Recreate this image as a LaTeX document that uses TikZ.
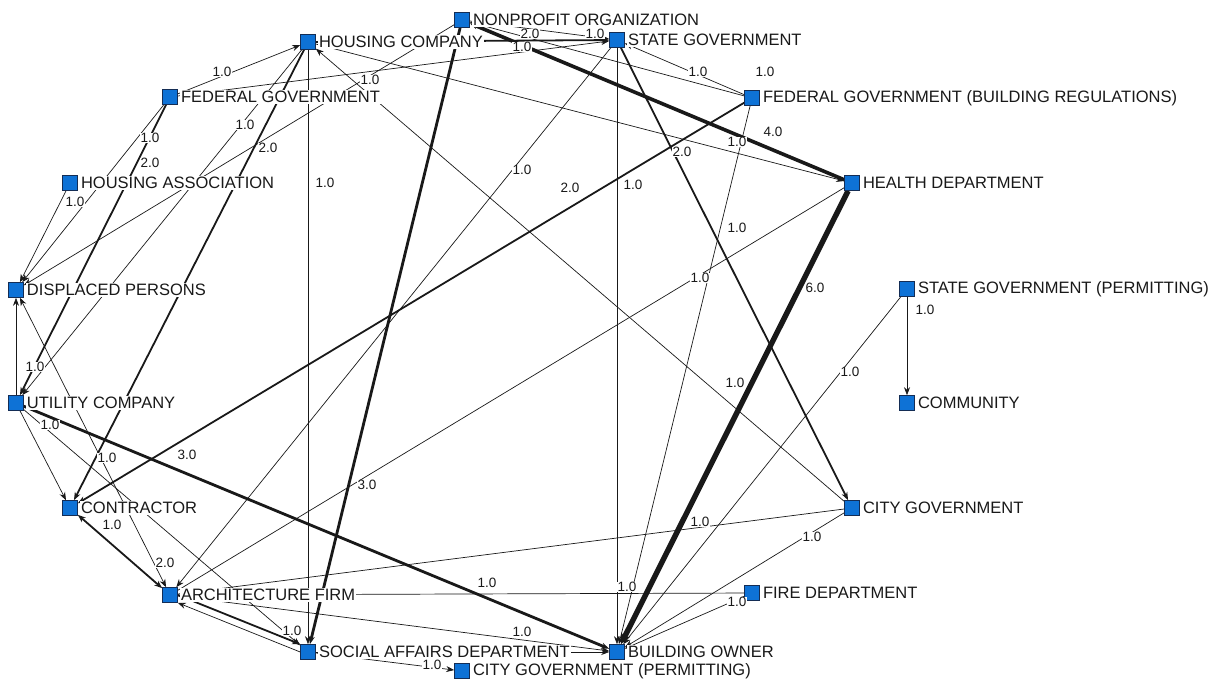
\documentclass[tikz,border=0pt]{standalone}
\usepackage{fontspec}
\setmainfont{Liberation Sans}
\usetikzlibrary{arrows.meta,backgrounds}
\definecolor{nodeblue}{RGB}{14,114,214}
\definecolor{nodeedge}{RGB}{20,45,85}
\definecolor{ink}{RGB}{25,25,25}
\begin{document}
\begin{tikzpicture}[x=1pt,y=-1pt,
  sq/.style={draw=nodeedge, fill=nodeblue, minimum size=15pt, inner sep=0pt, line width=0.6pt},
  nlab/.style={anchor=west, fill=white, inner sep=1pt, xshift=2pt, text=ink, font=\fontsize{16.5}{16.5}\selectfont},
  elab/.style={fill=white, inner sep=0.6pt, text=ink, font=\fontsize{13.5}{14}\selectfont},
  tip/.style={-{Stealth[length=8pt,width=6pt]}},
  w1/.style={line width=0.7pt, draw=ink},
  w2/.style={line width=1.8pt, draw=ink},
  w3/.style={line width=2.8pt, draw=ink},
  w4/.style={line width=3.6pt, draw=ink},
  w6/.style={line width=5.4pt, draw=ink},
  bigtip/.style={-{Stealth[length=11pt,width=10pt]}},
  bothtip/.style={{Stealth[length=8pt,width=6pt]}-{Stealth[length=8pt,width=6pt]}}
]
\useasboundingbox (0,0) rectangle (1225,680);

% nodes
\node[sq] (np) at (462,20) {};
\node[sq] (hc) at (308,42) {};
\node[sq] (sg) at (617,40) {};
\node[sq] (fg) at (170,97) {};
\node[sq] (fgbr) at (752,98) {};
\node[sq] (ha) at (70,183) {};
\node[sq] (hd) at (852,183) {};
\node[sq] (dp) at (16,290) {};
\node[sq] (sgp) at (907,289) {};
\node[sq] (uc) at (16,403) {};
\node[sq] (com) at (907,403) {};
\node[sq] (con) at (70,508) {};
\node[sq] (cg) at (852,508) {};
\node[sq] (af) at (170,595) {};
\node[sq] (fd) at (752,593) {};
\node[sq] (sad) at (308,652) {};
\node[sq] (bo) at (617,652) {};
\node[sq] (cgp) at (462,671) {};

% edges
\begin{scope}[on background layer]
\fill[white] (0,0) rectangle (1225,680);
\draw[w6,bigtip] (hd) -- (bo);
\draw[w4,tip] (hd) -- (np);
\draw[w3,tip] (np) -- (sad);
\draw[w3,tip] (uc) -- (bo);
\draw[w2,tip] (fgbr) -- (con);
\draw[w2,tip] (sg) -- (cg);
\draw[w2,tip] (hc) -- (sg);
\draw[w1,tip] (np) -- (sg);
\draw[w1,tip] (fgbr) -- (sg);
\draw[w1,tip] (fgbr) -- (np);
\draw[w1,tip] (fg) -- (sg);
\draw[w1,tip] (fg) -- (hc);
\draw[w1,tip] (hc) -- (hd);
\draw[w1,tip] (cg) -- (hc);
\draw[w1,tip] (hc) -- (sad);
\draw[w1,tip] (sg) -- (bo);
\draw[w1,tip] (sg) -- (af);
\draw[w1,tip] (fgbr) -- (bo);
\draw[w1] (hd) -- (af);
\draw[w1,tip] (sgp) -- (com);
\draw[w1,tip] (sgp) -- (bo);
\draw[w1] (cg) -- (af);
\draw[w1,tip] (cg) -- (bo);
\draw[w1,tip] (fd) -- (bo);
\draw[w1] (af) -- (fd);
\draw[w1,tip] (af) -- (bo);
\draw[w1,tip] (sad) -- (bo);
\draw[w1,tip] (sad) -- (cgp);
\draw[w2,tip] (af.east) -- (sad.north west);
\draw[w1,tip] (sad.west) -- (af.south east);
\draw[w2,bothtip] (con) -- (af);
\draw[w1,bothtip] (dp) -- (af);
\draw[w1,tip] (uc) -- (dp);
\draw[w1,tip] (uc) -- (con);
\draw[w1,tip] (uc) -- (sad);
\draw[w2,tip] (hc) -- (con);
\draw[w1,tip] (hc) -- (uc);
\draw[w2,tip] (fg) -- (uc);
\draw[w1,tip] (fg) -- (dp);
\draw[w1,tip] (ha) -- (dp);
\draw[w1,tip] (np) -- (dp);
\end{scope}

% edge labels
\node[elab] (l1) at (530,34) {2.0};
\node[elab] (l2) at (595,34) {1.0};
\node[elab] (l3) at (522,47) {1.0};
\node[elab] (l4) at (222,72) {1.0};
\node[elab] (l5) at (370,80) {1.0};
\node[elab] (l6) at (698,72) {1.0};
\node[elab] (l7) at (765,72) {1.0};
\node[elab] (l8) at (150,138) {1.0};
\node[elab] (l9) at (150,163) {2.0};
\node[elab] (l10) at (245,125) {1.0};
\node[elab] (l11) at (268,148) {2.0};
\node[elab] (l12) at (75,202) {1.0};
\node[elab] (l13) at (325,183) {1.0};
\node[elab] (l14) at (522,170) {1.0};
\node[elab] (l15) at (633,185) {1.0};
\node[elab] (l16) at (682,152) {2.0};
\node[elab] (l17) at (773,132) {4.0};
\node[elab] (l18) at (737,142) {1.0};
\node[elab] (l19) at (570,188) {2.0};
\node[elab] (l20) at (737,228) {1.0};
\node[elab] (l21) at (700,278) {1.0};
\node[elab] (l22) at (815,288) {6.0};
\node[elab] (l23) at (925,310) {1.0};
\node[elab] (l24) at (850,372) {1.0};
\node[elab] (l25) at (735,383) {1.0};
\node[elab] (l26) at (35,367) {1.0};
\node[elab] (l27) at (50,425) {1.0};
\node[elab] (l28) at (107,458) {1.0};
\node[elab] (l29) at (187,455) {3.0};
\node[elab] (l30) at (367,485) {3.0};
\node[elab] (l31) at (112,525) {1.0};
\node[elab] (l32) at (165,563) {2.0};
\node[elab] (l33) at (700,522) {1.0};
\node[elab] (l34) at (812,537) {1.0};
\node[elab] (l35) at (487,583) {1.0};
\node[elab] (l36) at (627,587) {1.0};
\node[elab] (l37) at (737,602) {1.0};
\node[elab] (l38) at (522,632) {1.0};
\node[elab] (l39) at (292,631) {1.0};
\node[elab] (l40) at (432,665) {1.0};

% node labels (on top)
\node[nlab] (npl) at (np.east) {NONPROFIT ORGANIZATION};
\node[nlab] (hcl) at (hc.east) {HOUSING COMPANY};
\node[nlab] (sgl) at (sg.east) {STATE GOVERNMENT};
\node[nlab] (fgl) at (fg.east) {FEDERAL GOVERNMENT};
\node[nlab] (fgbrl) at (fgbr.east) {FEDERAL GOVERNMENT (BUILDING REGULATIONS)};
\node[nlab] (hal) at (ha.east) {HOUSING ASSOCIATION};
\node[nlab] (hdl) at (hd.east) {HEALTH DEPARTMENT};
\node[nlab] (dpl) at (dp.east) {DISPLACED PERSONS};
\node[nlab] (sgpl) at (sgp.east) {STATE GOVERNMENT (PERMITTING)};
\node[nlab] (ucl) at (uc.east) {UTILITY COMPANY};
\node[nlab] (coml) at (com.east) {COMMUNITY};
\node[nlab] (conl) at (con.east) {CONTRACTOR};
\node[nlab] (cgl) at (cg.east) {CITY GOVERNMENT};
\node[nlab] (afl) at (af.east) {ARCHITECTURE FIRM};
\node[nlab] (fdl) at (fd.east) {FIRE DEPARTMENT};
\node[nlab] (sadl) at (sad.east) {SOCIAL AFFAIRS DEPARTMENT};
\node[nlab] (bol) at (bo.east) {BUILDING OWNER};
\node[nlab] (cgpl) at (cgp.east) {CITY GOVERNMENT (PERMITTING)};
\end{tikzpicture}
\end{document}
